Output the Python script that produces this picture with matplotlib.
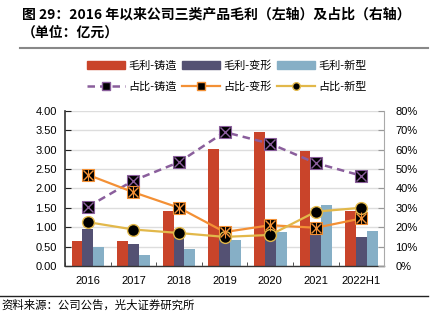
import matplotlib
matplotlib.use("Agg")
import matplotlib.pyplot as plt
from matplotlib.lines import Line2D
from matplotlib.patches import Patch
import numpy as np

plt.rcParams['font.family'] = ['Liberation Sans', 'Noto Sans CJK SC', 'DejaVu Sans']

categories = ['2016', '2017', '2018', '2019', '2020', '2021', '2022H1']
gp_casting = [0.64, 0.64, 1.41, 3.01, 3.45, 2.95, 1.42]
gp_deform = [0.95, 0.56, 0.80, 0.76, 1.15, 1.10, 0.75]
gp_new = [0.49, 0.28, 0.45, 0.67, 0.88, 1.57, 0.91]
pct_casting = [30.5, 44.0, 53.5, 69.0, 63.0, 53.0, 46.5]
pct_deform = [47.0, 38.0, 30.0, 17.5, 21.0, 19.7, 24.5]
pct_new = [22.6, 18.8, 17.0, 15.0, 16.0, 28.0, 30.0]

title1 = '图 29：2016 年以来公司三类产品毛利（左轴）及占比（右轴）'
title2 = '（单位：亿元）'
source = '资料来源：公司公告，光大证券研究所'

c_red = '#C9442A'
c_pur = '#545173'
c_blue = '#86AFC6'
c_lpur = '#8A5E9C'
c_orange = '#F39035'
c_yellow = '#E2B84A'

W, H = 439, 323
fig = plt.figure(figsize=(W / 100, H / 100), dpi=100)
ax = fig.add_axes([65 / W, 1 - 266 / H, (384.3 - 65) / W, (266 - 110.7) / H])

x = np.arange(len(categories))
bw = 0.238
ax.bar(x - bw, gp_casting, bw, color=c_red, zorder=2)
ax.bar(x, gp_deform, bw, color=c_pur, zorder=2)
ax.bar(x + bw, gp_new, bw, color=c_blue, zorder=2)

ax.set_xlim(-0.5, len(categories) - 0.5)
ax.set_ylim(0, 4)
ax.set_yticks(np.arange(0, 4.01, 0.5))
ax.set_yticklabels([f'{v:.2f}' for v in np.arange(0, 4.01, 0.5)])
ax.yaxis.grid(True, color='#DDDDDD', linewidth=1.0, zorder=0)
ax.set_axisbelow(True)
ax.set_xticks(x)
ax.set_xticklabels(categories)
ax.set_xticks(np.arange(-0.5, len(categories), 1.0), minor=True)
ax.tick_params(axis='x', which='major', length=0, labelsize=8, pad=7)
ax.tick_params(axis='x', which='minor', length=3, direction='in', color='#333333')
ax.tick_params(axis='y', labelsize=8, direction='in', length=4, color='#222222', pad=6)
ax.spines['top'].set_visible(False)
ax.spines['right'].set_visible(False)
ax.spines['left'].set_color('#333333')
ax.spines['left'].set_linewidth(1.2)
ax.spines['bottom'].set_color('#333333')
ax.spines['bottom'].set_linewidth(1.0)

ax2 = ax.twinx()
ax2.set_ylim(0, 80)
ax2.set_yticks(np.arange(0, 81, 10))
ax2.set_yticklabels([f'{v}%' for v in range(0, 81, 10)])
ax2.tick_params(axis='y', labelsize=8, direction='in', length=4, color='#999999', pad=8)
for s in ['top', 'left', 'bottom']:
    ax2.spines[s].set_visible(False)
ax2.spines['right'].set_color('#AAAAAA')

ax2.plot(x, pct_casting, color=c_lpur, lw=1.8, ls=(0, (3, 2)), marker='s', ms=9,
         mfc='black', mec=c_lpur, mew=0.8, zorder=3)
ax2.plot(x, pct_casting, ls='none', marker='x', ms=7, mec=c_lpur, mew=1.0, zorder=4)
ax2.plot(x, pct_deform, color=c_orange, lw=1.6, marker='s', ms=9,
         mfc='black', mec=c_orange, mew=0.8, zorder=3)
ax2.plot(x, pct_deform, ls='none', marker='x', ms=7, mec=c_orange, mew=1.0, zorder=4)
ax2.plot(x, pct_deform, ls='none', marker='|', ms=8, mec=c_orange, mew=0.8, zorder=4)
ax2.plot(x, pct_new, color=c_yellow, lw=1.6, marker='o', ms=8.5,
         mfc='black', mec=c_yellow, mew=1.0, zorder=3)

handles = [
    Patch(color=c_red), Line2D([], [], color=c_lpur, lw=1.8, ls=(0, (3, 2)), marker='s', ms=5.5, mfc='black', mec=c_lpur),
    Patch(color=c_pur), Line2D([], [], color=c_orange, lw=1.6, marker='s', ms=5.5, mfc='black', mec=c_orange),
    Patch(color=c_blue), Line2D([], [], color=c_yellow, lw=1.6, marker='o', ms=5.5, mfc='black', mec=c_yellow),
]
labels = ['毛利-铸造', '占比-铸造', '毛利-变形', '占比-变形', '毛利-新型', '占比-新型']
leg = fig.legend(handles, labels, ncol=3, loc='center', bbox_to_anchor=(227 / W, 1 - 76.2 / H),
                 frameon=False, handlelength=3.4, handleheight=0.7,
                 handletextpad=0.35, columnspacing=0.45, labelspacing=0.95,
                 prop={'family': ['Noto Sans CJK SC', 'DejaVu Sans'], 'size': 8})

fig.text(22 / W, 1 - 15 / H, title1, fontsize=10, fontweight='bold', va='center', ha='left',
         family=['Noto Sans CJK SC', 'DejaVu Sans'])
fig.text(22 / W, 1 - 33 / H, title2, fontsize=10, fontweight='bold', va='center', ha='left',
         family=['Noto Sans CJK SC', 'DejaVu Sans'])
fig.add_artist(Line2D([20 / W, 428 / W], [1 - 48 / H, 1 - 48 / H], color='#888888', lw=1.5))
fig.add_artist(Line2D([0, 428 / W], [1 - 295.7 / H, 1 - 295.7 / H], color='#222222', lw=1.0))
fig.text(1 / W, 1 - 305.5 / H, source, fontsize=8.2, va='center', ha='left',
         family=['Noto Sans CJK SC', 'DejaVu Sans'])

fig.savefig('out.png', dpi=100)
